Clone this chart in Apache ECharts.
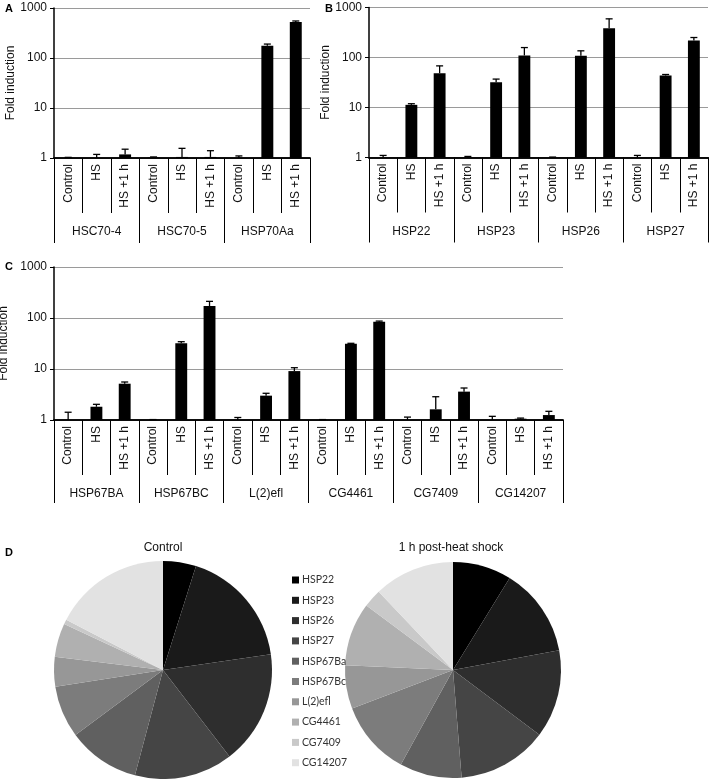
<!DOCTYPE html>
<html><head><meta charset="utf-8">
<script src="https://cdn.jsdelivr.net/npm/echarts@6/dist/echarts.min.js"></script>
<style>html,body{margin:0;padding:0;background:#fff}#c{width:709px;height:779px}</style>
</head><body><div id="c"></div>
<script>
// ---------- DATA ----------
const subCats = ['Control', 'HS', 'HS +1 h'];
const groupsA = ['HSC70-4', 'HSC70-5', 'HSP70Aa'];
const valuesA = [1.0, 1.0, 1.18, 1.02, 1.05, 1.05, 1.0, 176, 525];
const errA    = [0.03, 0.18, 0.32, 0.03, 0.51, 0.35, 0.1, 14, 25];
const groupsB = ['HSP22', 'HSP23', 'HSP26', 'HSP27'];
const valuesB = [1.0, 11.3, 48.6, 1.0, 32, 110, 1.0, 108, 386, 1.0, 43.6, 219];
const errB    = [0.1, 0.6, 19.4, 0.05, 5, 48, 0.02, 28, 207, 0.1, 2.1, 32];
const groupsC = ['HSP67BA', 'HSP67BC', 'L(2)efl', 'CG4461', 'CG7409', 'CG14207'];
const valuesC = [1.0, 1.82, 5.15, 1.0, 31.9, 172, 1.0, 3.0, 9.1, 1.0, 31.4, 84.7, 1.0, 1.62, 3.6, 1.0, 1.06, 1.25];
const errC    = [0.42, 0.21, 0.41, 0.02, 2.4, 40, 0.12, 0.34, 1.5, 0.02, 0.5, 2.3, 0.14, 1.24, 0.64, 0.18, 0.03, 0.23];
const yTicks = [1, 10, 100, 1000];
const pieNames = ['HSP22', 'HSP23', 'HSP26', 'HSP27', 'HSP67Ba', 'HSP67Bc', 'L(2)efl', 'CG4461', 'CG7409', 'CG14207'];
const pieControl = [4.9, 17.8, 16.9, 14.6, 10.7, 7.7, 4.4, 5.0, 0.7, 17.4];
const piePost    = [8.8, 13.3, 13.2, 13.5, 9.3, 11.2, 6.5, 9.5, 2.75, 12.1];
const pieTitles = ['Control', '1 h post-heat shock'];

// ---------- STYLE ----------
const FONT = '"Liberation Sans", Arial, sans-serif';
const pieColors = ['#000000', '#1a1a1a', '#2e2e2e', '#454545', '#606060', '#7c7c7c', '#979797', '#b0b0b0', '#c9c9c9', '#e2e2e2'];

const panels = [
  { groups: groupsA, values: valuesA, errs: errA, grid: { left: 54, top: 8, width: 256, height: 150 }, subTick: 55, grpTick: 85 },
  { groups: groupsB, values: valuesB, errs: errB, grid: { left: 369, top: 7.5, width: 339, height: 150 }, subTick: 55, grpTick: 85 },
  { groups: groupsC, values: valuesC, errs: errC, grid: { left: 54, top: 267, width: 509, height: 153 }, subTick: 55, grpTick: 83 }
];

const option = {
  animation: false,
  backgroundColor: '#fff',
  textStyle: { fontFamily: FONT },
  grid: [], xAxis: [], yAxis: [], series: [],
  color: pieColors,
  legend: {
    orient: 'vertical', left: 287, top: 569,
    data: pieNames, icon: 'rect', itemWidth: 7, itemHeight: 7, itemGap: 8.3,
    selectedMode: false,
    textStyle: { fontFamily: 'Lato, "Open Sans", sans-serif', fontSize: 10.5, color: '#333', lineHeight: 12, padding: [0, 0, 0, -2] }
  },
  graphic: []
};

panels.forEach((p, i) => {
  option.grid.push(Object.assign({ outerBoundsMode: 'none', containLabel: false }, p.grid));
  const cats = [];
  p.groups.forEach(g => subCats.forEach(s => cats.push(g + '|' + s)));
  option.xAxis.push({
    type: 'category', gridIndex: i, data: cats, position: 'bottom',
    axisLine: { show: true, lineStyle: { color: '#000', width: 1.5 } },
    axisTick: { show: true, interval: 0, length: p.subTick, lineStyle: { color: '#000', width: 1 } },
    axisLabel: { interval: 0, rotate: 90, margin: 6, fontSize: 12, color: '#111', fontFamily: FONT,
      formatter: v => v.split('|')[1] },
    splitLine: { show: false }
  });
  option.xAxis.push({
    type: 'category', gridIndex: i, data: p.groups, position: 'bottom', offset: 0,
    axisLine: { show: true, lineStyle: { color: '#000', width: 1.5 } },
    axisTick: { show: true, interval: 0, length: p.grpTick, lineStyle: { color: '#000', width: 1 } },
    axisLabel: { interval: 0, margin: 68, fontSize: 12, color: '#111', fontFamily: FONT },
    splitLine: { show: false }
  });
  option.yAxis.push({
    type: 'log', logBase: 10, gridIndex: i, min: yTicks[0], max: yTicks[yTicks.length - 1],
    name: 'Fold induction', nameLocation: 'middle', nameGap: 35,
    nameTextStyle: { fontSize: 12, color: '#111', fontFamily: FONT },
    axisLine: { show: true, lineStyle: { color: '#000', width: 1.5 } },
    axisTick: { show: true, length: 4, lineStyle: { color: '#000' } },
    minorTick: { show: false },
    axisLabel: { fontSize: 12, color: '#111', margin: 7, fontFamily: FONT,
      formatter: v => yTicks.indexOf(Math.round(v)) >= 0 ? String(Math.round(v)) : '' },
    splitLine: { show: true, lineStyle: { color: '#9a9a9a', width: 1 } }
  });
  option.series.push({
    type: 'bar', xAxisIndex: i * 2, yAxisIndex: i, data: p.values,
    barWidth: '42%', itemStyle: { color: '#000' }, silent: true
  });
  option.series.push({
    type: 'custom', xAxisIndex: i * 2, yAxisIndex: i, silent: true, z: 3,
    data: p.values.map((v, k) => [k, v, v + p.errs[k]]),
    renderItem: (params, api) => {
      const x = api.value(0);
      const lo = api.coord([x, api.value(1)]);
      const hi = api.coord([x, api.value(2)]);
      const cap = 3.5;
      return {
        type: 'group', children: [
          { type: 'line', shape: { x1: lo[0], y1: lo[1], x2: hi[0], y2: hi[1] }, style: { stroke: '#000', lineWidth: 1.3 } },
          { type: 'line', shape: { x1: hi[0] - cap, y1: hi[1], x2: hi[0] + cap, y2: hi[1] }, style: { stroke: '#000', lineWidth: 1.3 } }
        ]
      };
    }
  });
});

// Pies
[pieControl, piePost].forEach((vals, j) => {
  option.series.push({
    type: 'pie', center: [j === 0 ? 163 : 453, 670], radius: j === 0 ? 109 : 108,
    startAngle: 90, clockwise: true, silent: true,
    label: { show: false }, labelLine: { show: false },
    itemStyle: { borderWidth: 0 },
    data: pieNames.map((n, k) => ({ name: n, value: vals[k] }))
  });
});

// Panel letters and pie titles
const letters = [['A', 5, 9], ['B', 325, 9], ['C', 5, 267], ['D', 5, 553]];
letters.forEach(l => option.graphic.push({
  type: 'text', x: l[1], y: l[2],
  style: { text: l[0], font: 'bold 11px ' + FONT, fill: '#000', verticalAlign: 'middle' }
}));
pieTitles.forEach((t, j) => option.graphic.push({
  type: 'text', x: j === 0 ? 163 : 451, y: 548,
  style: { text: t, font: '12px ' + FONT, fill: '#111', align: 'center', verticalAlign: 'middle' }
}));

const chart = echarts.init(document.getElementById('c'), null, { renderer: 'canvas' });
chart.setOption(option);
</script>
</body></html>
